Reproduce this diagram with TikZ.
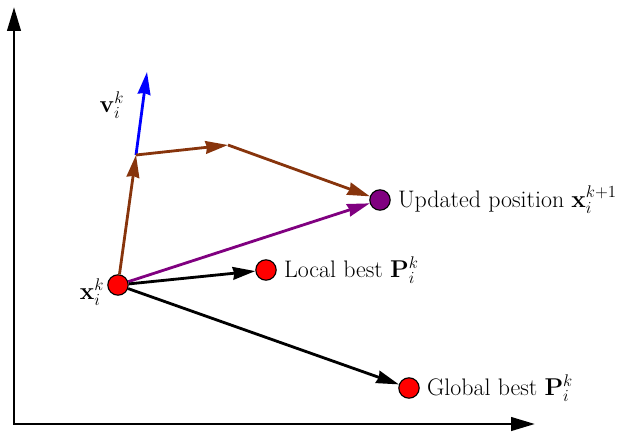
\documentclass[tikz,border=0pt]{standalone}
\usepackage{amsmath}
\usepackage{amssymb}
\usepackage{tikz}
\usetikzlibrary{arrows.meta,positioning}
\definecolor{velbrown}{RGB}{135,52,12}
\definecolor{updpurple}{RGB}{128,0,128}
\tikzstyle{particle} = [circle, draw=black, line width=0.8pt, fill=red, minimum size=14.5pt, inner sep=0pt]
\tikzstyle{newpos} = [particle, fill=updpurple]
\tikzstyle{lbl} = [font=\fontsize{17}{20}\selectfont, inner sep=2pt]
\tikzstyle{axis} = [line width=2.1pt, {Triangle[length=17pt,width=9.5pt]}-{Triangle[length=17pt,width=9.5pt]}]
\tikzstyle{arrow} = [line width=2pt, -{Stealth[length=16pt,width=9pt,inset=1pt]}]

\begin{document}
\begin{tikzpicture}[x=0.025cm, y=-0.025cm]
\useasboundingbox (0,0) rectangle (624,435);

% axes
\coordinate (ytop) at (14,7);
\coordinate (origin) at (14,424);
\coordinate (xend) at (535,424);
\draw [axis] (ytop) -- (origin) -- (xend);

\node (xk) [particle] at (118,285) {};
\node (lbest) [particle] at (266,270) {};
\node (gbest) [particle] at (409,388) {};
\node (upd) [newpos] at (380,200) {};
\coordinate (vtip) at (136,155);
\coordinate (ptip) at (228,145);
\coordinate (vel) at (147,72);

\node (xklbl) [lbl, left=0pt of xk, yshift=-5pt] {$\mathbf{x}_i^k$};
\node (vlbl) [lbl] at (112,105) {$\mathbf{v}_i^k$};
\node (lbestlbl) [lbl, right=3pt of lbest] {Local best $\mathbf{P}_i^k$};
\node (updlbl) [lbl, right=3pt of upd] {Updated position $\mathbf{x}_i^{k+1}$};
\node (gbestlbl) [lbl, right=3pt of gbest] {Global best $\mathbf{P}_i^k$};

\draw [arrow, velbrown] (xk) -- (vtip);
\draw [arrow, blue] (vtip) -- (vel);
\draw [arrow, velbrown] (vtip) -- (ptip);
\draw [arrow, velbrown] (ptip) -- (upd);
\draw [arrow, updpurple] (xk) -- (upd);
\draw [arrow] (xk) -- (lbest);
\draw [arrow] (xk) -- (gbest);

\end{tikzpicture}
\end{document}
